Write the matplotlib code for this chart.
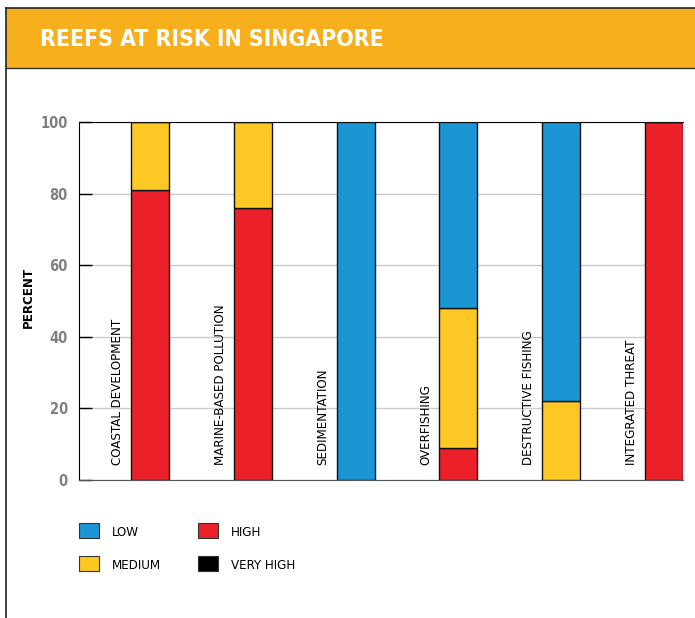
import matplotlib
matplotlib.use("Agg")
import matplotlib.pyplot as plt
from matplotlib.patches import Rectangle
from matplotlib.lines import Line2D
import numpy as np

categories = ["COASTAL DEVELOPMENT", "MARINE-BASED POLLUTION", "SEDIMENTATION",
              "OVERFISHING", "DESTRUCTIVE FISHING", "INTEGRATED THREAT"]
very_high = [0, 0, 0, 0, 0, 0]
high = [81, 76, 0, 9, 0, 100]
medium = [19, 24, 0, 39, 22, 0]
low = [0, 0, 100, 52, 78, 0]
yticks = [0, 20, 40, 60, 80, 100]

levels = ["LOW", "MEDIUM", "HIGH", "VERY HIGH"]
colors = {"LOW": "#1a96d4", "MEDIUM": "#fdc824", "HIGH": "#ec2028", "VERY HIGH": "#000000"}

W, H = 695, 618
plt.rcParams["font.family"] = "DejaVu Sans"
plt.rcParams["font.stretch"] = "condensed"


def px(x, y):
    # pixel coords (from top-left) -> figure fraction
    return x / W, 1 - y / H


fig = plt.figure(figsize=(W / 100, H / 100), dpi=100)

# header band + frame lines
x0, y0 = px(6, 68)
ytop = px(0, 8)[1]
fig.add_artist(Rectangle((x0, y0), 1 - x0, ytop - y0, transform=fig.transFigure,
                         facecolor="#f8af1d", edgecolor="none"))
fig.add_artist(Line2D([x0, 1], [ytop] * 2, transform=fig.transFigure, color="#222222", lw=1.2))
fig.add_artist(Line2D([x0, 1], [y0] * 2, transform=fig.transFigure, color="#333333", lw=1))
fig.add_artist(Line2D([x0, x0], [0, ytop], transform=fig.transFigure, color="#222222", lw=1.2))
tx, ty = px(40, 39)
fig.text(tx, ty, "REEFS AT RISK IN SINGAPORE", color="white", fontsize=16.5,
         fontweight="bold", fontstretch="condensed", va="center", ha="left")

# main axes
l, b = px(79, 480)
r, t = px(683, 122)
ax = fig.add_axes([l, b, r - l, t - b])

x = np.arange(len(categories))
bw = 0.37
bottom = np.zeros(len(categories))
for name, vals in [("VERY HIGH", very_high), ("HIGH", high), ("MEDIUM", medium), ("LOW", low)]:
    vals = np.array(vals, dtype=float)
    ax.bar(x, vals, bw, bottom=bottom, color=colors[name], edgecolor="#111111",
           linewidth=1, zorder=3)
    bottom += vals

for i, cat in enumerate(categories):
    ax.text(i - 0.315, 4.2, cat, rotation=90, ha="center", va="bottom",
            fontsize=9.5, fontstretch="condensed", color="black", zorder=4)

ax.set_xlim(-0.69, 5.185)
ax.set_ylim(0, 100)
ax.set_yticks(yticks)
ax.set_xticks([])
ax.yaxis.grid(True, color="#cccccc", linewidth=1, zorder=0)
ax.tick_params(axis="y", direction="in", length=9.5, width=1, color="black",
               labelsize=10.5, labelcolor="#7f7f7f", pad=8)
for lab in ax.get_yticklabels():
    lab.set_fontweight("bold")
    lab.set_fontstretch("condensed")
ax.spines["right"].set_visible(False)
ax.spines["left"].set_color("black")
ax.spines["top"].set_color("black")
ax.spines["bottom"].set_color("#555555")

lx, ly = px(28, 297)
fig.text(lx, ly, "PERCENT", rotation=90, ha="center", va="center", fontsize=9.5,
         fontweight="bold", fontstretch="condensed")

# legend
legend_pos = {"LOW": (79, 523), "MEDIUM": (79, 556), "HIGH": (198, 523), "VERY HIGH": (198, 556)}
for name in levels:
    sx, sy = legend_pos[name]
    fx, fy = px(sx, sy + 15)
    fig.add_artist(Rectangle((fx, fy), 20 / W, 15 / H, transform=fig.transFigure,
                             facecolor=colors[name], edgecolor="#333333", lw=0.8))
    tx, ty = px(sx + 33, sy + 9.5)
    fig.text(tx, ty, name, fontsize=9.5, fontstretch="condensed", va="center", ha="left", color="black")

fig.savefig("out.png", dpi=100)
